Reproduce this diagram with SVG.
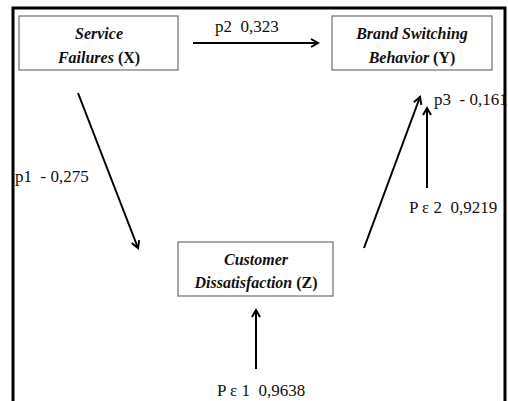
<svg xmlns="http://www.w3.org/2000/svg" width="508" height="401" viewBox="0 0 508 401">
<defs>
<marker id="ah" markerWidth="10" markerHeight="10" refX="8" refY="5" orient="auto" markerUnits="userSpaceOnUse">
<path d="M1,1 L8,5 L1,9" fill="none" stroke="#000" stroke-width="2"/>
</marker>
<style>
.box{fill:#fff;stroke:#6e6e6e;stroke-width:1.2}
.nt{font-family:"Liberation Serif",serif;font-size:16px;font-weight:bold;fill:#111;text-anchor:middle}
.it{font-style:italic}
.lb{font-family:"Liberation Serif",serif;font-size:17px;fill:#111;white-space:pre}
.ln{stroke:#000;stroke-width:2;fill:none;marker-end:url(#ah)}
</style>
</defs>
<rect width="508" height="401" fill="#fff"/>
<path d="M13,401 V8 H505 V401" fill="none" stroke="#000" stroke-width="3"/>
<g id="connectors">
<line class="ln" x1="193" y1="43" x2="318" y2="43"/>
<line class="ln" x1="78" y1="93" x2="138" y2="248"/>
<line class="ln" x1="364" y1="248" x2="420" y2="97"/>
<line class="ln" x1="427" y1="188" x2="427" y2="108"/>
<line class="ln" x1="256" y1="369" x2="256" y2="310"/>
<text class="lb" x="215" y="32" xml:space="preserve">p2  0,323</text>
<text class="lb" x="15" y="182" xml:space="preserve">p1  - 0,275</text>
<text class="lb" x="434" y="105" xml:space="preserve">p3  - 0,161</text>
<text class="lb" x="409" y="213" xml:space="preserve">P ε 2  0,9219</text>
<text class="lb" x="217" y="396" xml:space="preserve">P ε 1  0,9638</text>
</g>
<g id="service-failures">
<rect class="box" x="19" y="16" width="159" height="54"/>
<text class="nt" x="99" y="39"><tspan class="it">Service</tspan></text>
<text class="nt" x="99" y="63"><tspan class="it">Failures</tspan> (X)</text>
</g>
<g id="brand-switching">
<rect class="box" x="332" y="16" width="160" height="54"/>
<text class="nt" x="412" y="39"><tspan class="it">Brand Switching</tspan></text>
<text class="nt" x="412" y="63"><tspan class="it">Behavior</tspan> (Y)</text>
</g>
<g id="customer-dissatisfaction">
<rect class="box" x="178" y="242" width="155" height="54"/>
<text class="nt" x="256" y="265"><tspan class="it">Customer</tspan></text>
<text class="nt" x="256" y="288"><tspan class="it">Dissatisfaction</tspan> (Z)</text>
</g>
</svg>
